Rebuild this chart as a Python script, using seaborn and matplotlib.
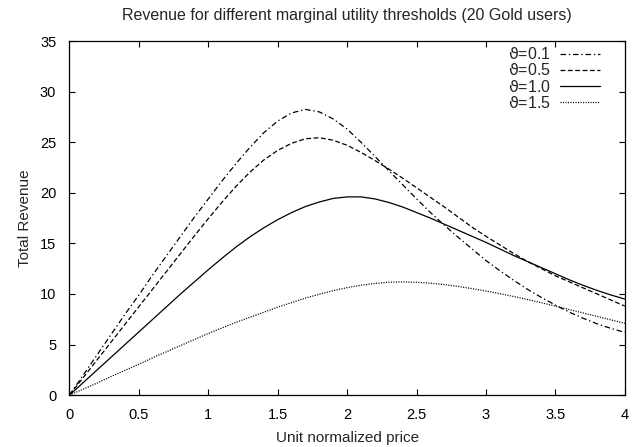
"""
plot.py - revenue curves for different marginal utility thresholds.
"""
import numpy as np
import pandas as pd
import matplotlib
matplotlib.use("Agg")
import matplotlib.pyplot as plt
import seaborn as sns

# unit normalized price (shared x grid)
price = [round(0.1 * i, 1) for i in range(41)]

rev_theta_01 = [0.0, 2.0, 4.0, 6.0, 8.0, 9.9, 11.9, 13.8, 15.7, 17.6,
                19.4, 21.2, 22.9, 24.5, 25.95, 27.1, 27.9, 28.25, 28.0, 27.3,
                26.3, 25.0, 23.6, 22.2, 20.8, 19.4, 18.05, 16.8, 15.6, 14.45,
                13.3, 12.3, 11.35, 10.45, 9.65, 8.9, 8.2, 7.6, 7.05, 6.6, 6.2]
rev_theta_05 = [0.0, 1.75, 3.5, 5.25, 7.0, 8.75, 10.5, 12.25, 14.0, 15.75,
                17.45, 19.1, 20.65, 22.05, 23.25, 24.2, 24.9, 25.35, 25.45, 25.2,
                24.7, 24.0, 23.2, 22.35, 21.45, 20.5, 19.55, 18.6, 17.6, 16.6,
                15.7, 14.85, 14.0, 13.2, 12.5, 11.8, 11.2, 10.6, 10.0, 9.4, 8.8]
rev_theta_10 = [0.0, 1.25, 2.5, 3.75, 5.0, 6.25, 7.5, 8.75, 10.0, 11.2,
                12.4, 13.55, 14.65, 15.65, 16.55, 17.35, 18.05, 18.65, 19.1, 19.45,
                19.6, 19.6, 19.4, 19.05, 18.6, 18.05, 17.5, 16.9, 16.3, 15.7,
                15.1, 14.45, 13.8, 13.2, 12.6, 12.0, 11.4, 10.85, 10.35, 9.9, 9.5]
rev_theta_15 = [0.0, 0.6, 1.2, 1.85, 2.45, 3.05, 3.7, 4.3, 4.9, 5.5,
                6.1, 6.65, 7.2, 7.7, 8.2, 8.7, 9.15, 9.6, 9.98, 10.33,
                10.63, 10.87, 11.05, 11.16, 11.2, 11.16, 11.07, 10.93, 10.75, 10.53,
                10.29, 10.03, 9.75, 9.45, 9.13, 8.8, 8.46, 8.12, 7.78, 7.44, 7.1]

labels = [r"$\vartheta$=0.1", r"$\vartheta$=0.5", r"$\vartheta$=1.0", r"$\vartheta$=1.5"]
series = [rev_theta_01, rev_theta_05, rev_theta_10, rev_theta_15]
line_styles = [(0, (4, 2, 1, 2)), (0, (3.5, 1.8)), "-", (0, (0.8, 1.0))]

sns.set_style("ticks")
plt.rcParams["font.family"] = ["Liberation Sans", "DejaVu Sans"]
plt.rcParams["mathtext.fontset"] = "custom"
plt.rcParams["mathtext.it"] = "DejaVu Sans"
plt.rcParams["mathtext.rm"] = "Liberation Sans"
plt.rcParams["lines.scale_dashes"] = False

fig = plt.figure(figsize=(6.37, 4.47), dpi=100)
ax = fig.add_axes([0.109, 0.116, 0.872, 0.792])

for lab, vals, ls in zip(labels, series, line_styles):
    df = pd.DataFrame({"price": price, "revenue": vals})
    sns.lineplot(data=df, x="price", y="revenue", ax=ax, color="black",
                 linewidth=0.9, linestyle=ls, label=lab)

ax.set_xlim(0, 4)
ax.set_ylim(0, 35)
ax.set_xticks(np.arange(0, 4.01, 0.5))
ax.set_xticklabels(["0", "0.5", "1", "1.5", "2", "2.5", "3", "3.5", "4"])
ax.set_yticks(np.arange(0, 36, 5))
ax.tick_params(direction="in", top=True, right=True, length=4.5, width=0.8,
               labelsize=10.5, colors="black", pad=9.5)
for sp in ax.spines.values():
    sp.set_visible(True)
    sp.set_linewidth(0.9)
    sp.set_color("black")

ax.set_xlabel("Unit normalized price", fontsize=11, labelpad=6)
ax.set_ylabel("Total Revenue", fontsize=11, labelpad=6)
ax.set_title("Revenue for different marginal utility thresholds (20 Gold users)",
             fontsize=11.5, pad=15.5)

leg = ax.legend(loc="upper right", bbox_to_anchor=(0.966, 1.004),
                frameon=False, markerfirst=False, fontsize=11.5,
                handlelength=2.5, handletextpad=0.56, labelspacing=0.02,
                borderaxespad=0.0)
for t in leg.get_texts():
    t.set_ha("right")

fig.savefig("out.png", dpi=100)
